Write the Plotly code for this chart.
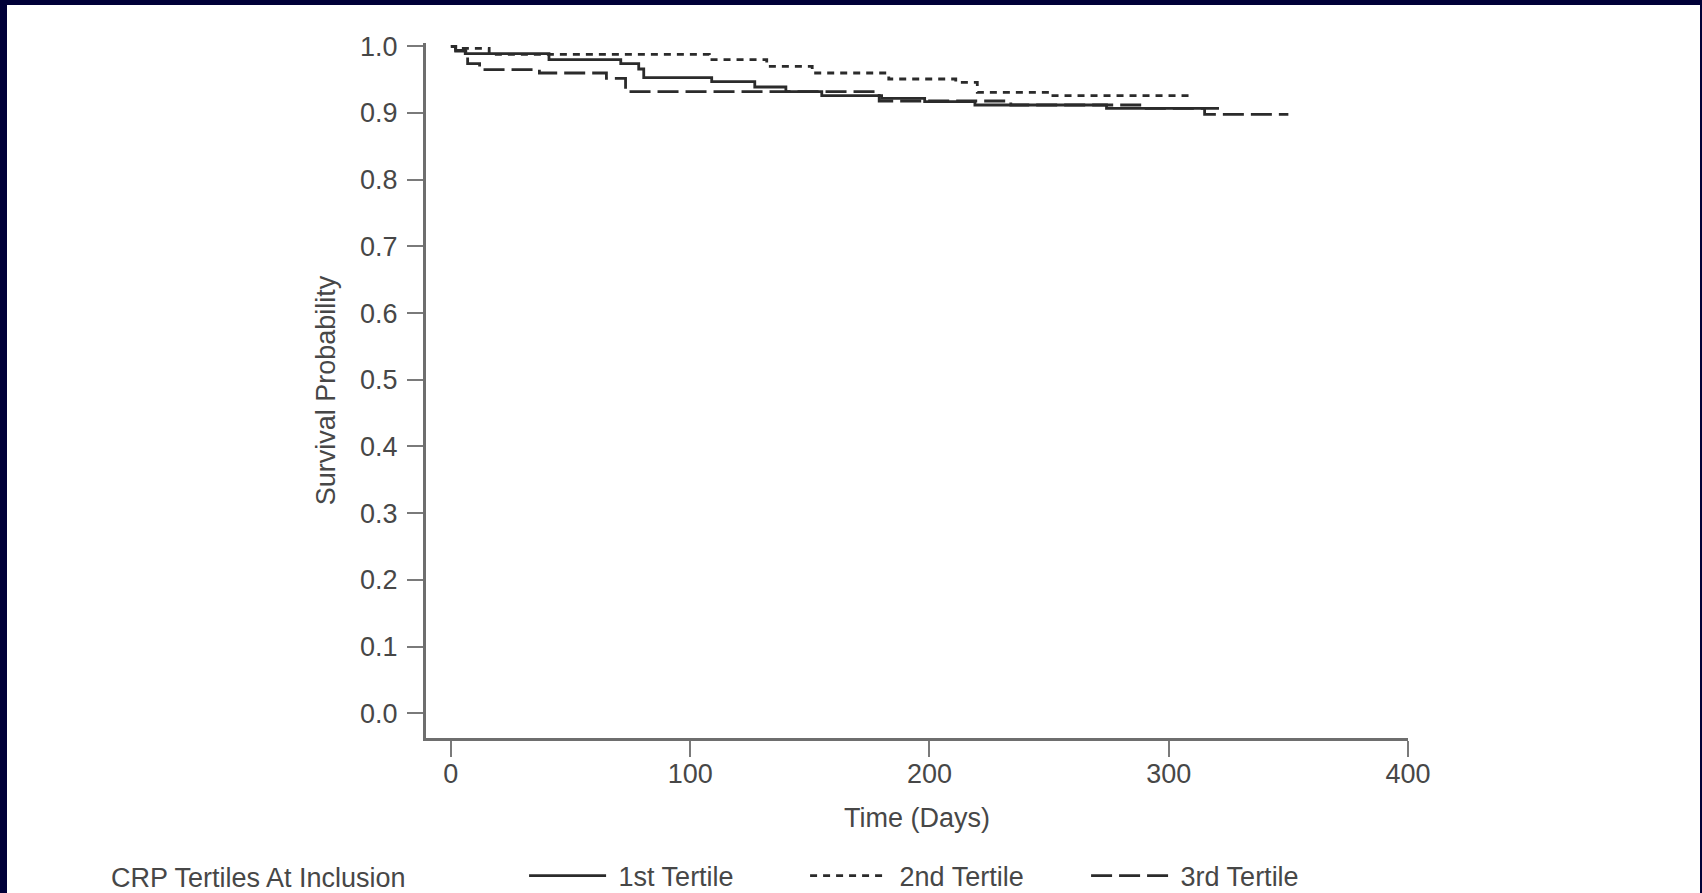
import plotly.graph_objects as go

# Kaplan-Meier step data per CRP tertile: event times (days) and survival after each step
t_tertile1 = [0, 2, 6, 41, 71, 78.5, 80.6, 109, 127, 140, 155, 180, 198, 219, 274]
s_tertile1 = [1.0, 0.994, 0.989, 0.980, 0.974, 0.966, 0.953, 0.947, 0.939, 0.932, 0.926, 0.922, 0.917, 0.912, 0.907]
end_tertile1 = 321

t_tertile2 = [0, 2, 16, 108, 132, 151, 183, 211, 220, 250]
s_tertile2 = [1.0, 0.997, 0.988, 0.980, 0.970, 0.960, 0.951, 0.946, 0.931, 0.926]
end_tertile2 = 310

t_tertile3 = [0, 2, 7, 12, 37, 65, 73, 179, 234, 289, 315]
s_tertile3 = [1.0, 0.993, 0.974, 0.965, 0.960, 0.952, 0.932, 0.918, 0.912, 0.907, 0.898]
end_tertile3 = 350

series_names = ["1st Tertile", "2nd Tertile", "3rd Tertile"]
y_ticks = [0.0, 0.1, 0.2, 0.3, 0.4, 0.5, 0.6, 0.7, 0.8, 0.9, 1.0]
x_ticks = [0, 100, 200, 300, 400]

FONT = "Liberation Sans, Arial, sans-serif"
TEXT = "#474747"
LINE = "#2b2b2b"
NAVY = "#000038"
NBSP = "\u00a0"
THIN = "\u2009"

W, H = 1702, 893
L, R, T, B = 426, 1408, 43, 738   # plot area in pixels


def px_x(p):
    return (p - L) / (R - L)


def px_y(p):
    return (B - p) / (B - T)


fig = go.Figure()

styles = ["solid", "7px,6px", "21px,7px"]
data = [
    (t_tertile1, s_tertile1, end_tertile1),
    (t_tertile2, s_tertile2, end_tertile2),
    (t_tertile3, s_tertile3, end_tertile3),
]
for name, dash, (t, s, end) in zip(series_names, styles, data):
    fig.add_trace(go.Scatter(
        x=list(t) + [end],
        y=list(s) + [s[-1]],
        mode="lines",
        line=dict(shape="hv", color=LINE, width=2.8, dash=dash),
        name=NBSP + name,
    ))

# white panel inside a thin navy frame
fig.add_shape(type="rect", xref="paper", yref="paper",
              x0=px_x(7), x1=px_x(1700), y0=px_y(H + 5), y1=px_y(5),
              fillcolor="white", line=dict(width=0), layer="below")

axis_common = dict(
    showline=True, linecolor="#6e6e6e", linewidth=3,
    ticks="outside", ticklen=16, tickwidth=2, tickcolor="#7a7a7a",
    showgrid=False, zeroline=False,
    tickfont=dict(family=FONT, size=27, color=TEXT),
)

fig.update_xaxes(
    range=[-10.4, 400], tickvals=x_ticks, ticklabelstandoff=-6,
    title=dict(text="Time (Days)", font=dict(family=FONT, size=27, color=TEXT), standoff=20),
    **axis_common,
)
fig.update_yaxes(
    range=[-0.0372, 1.005], tickvals=y_ticks, tickformat=".1f", ticklabelstandoff=4,
    title=dict(text="Survival Probability", font=dict(family=FONT, size=27, color=TEXT), standoff=17),
    **axis_common,
)

fig.update_layout(
    width=W, height=H,
    margin=dict(l=L, r=W - R, t=T, b=H - B, pad=0, autoexpand=False),
    paper_bgcolor=NAVY, plot_bgcolor="white",
    showlegend=True,
    legend=dict(
        orientation="h",
        xref="container", yref="container",
        x=109 / W, xanchor="left",
        y=(H - 876) / H, yanchor="middle",
        title=dict(text="CRP Tertiles At Inclusion" + NBSP * 14 + THIN, side="left",
                   font=dict(family=FONT, size=27, color=TEXT)),
        font=dict(family=FONT, size=27, color=TEXT),
        itemwidth=77,
        entrywidth=189,
        bgcolor="rgba(0,0,0,0)",
        traceorder="normal",
    ),
)

fig.write_html("out.html")
